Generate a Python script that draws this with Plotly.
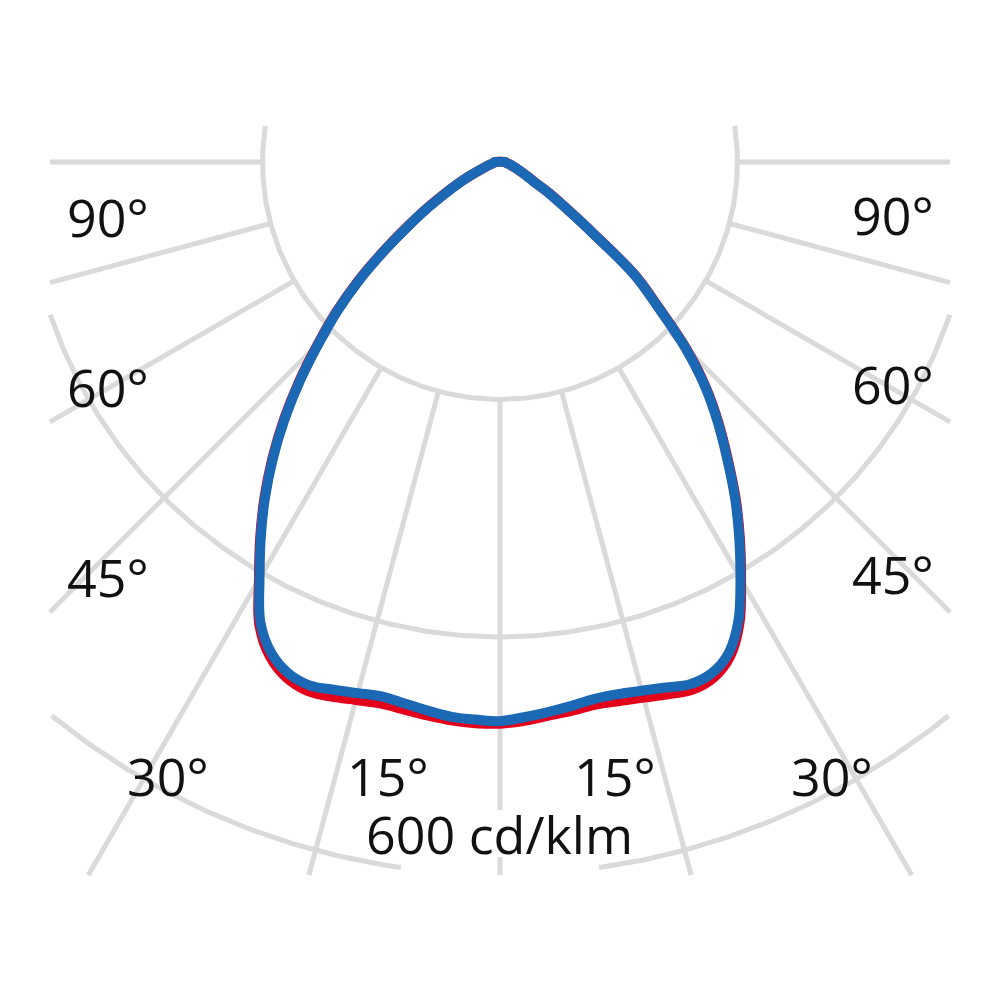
import numpy as np
import plotly.graph_objects as go

# ---------------- data (cd/klm) ----------------
angles = [0, 2.5, 5, 7.5, 10, 12.5, 15, 17.5, 20, 22.5, 25, 27.5, 30, 32.5, 35, 37.5,
          40, 42.5, 45, 47.5, 50, 52.5, 55, 57.5, 60, 62.5, 65, 70, 75, 80, 85, 90]

blue_left = [471, 470, 469, 466, 463, 461, 463, 466, 469, 466, 456, 437, 405, 375, 345, 314,
             282, 249, 216, 186, 155, 123, 95, 73, 54, 40, 29, 15, 9, 6, 5, 4]
blue_right = [471, 468, 465, 462, 459, 459, 461, 464, 468, 466, 456, 435, 405, 375, 345, 314,
              285, 255, 220, 180, 148, 99, 68, 49, 32, 25, 20, 13, 9, 6, 5, 4]
red_left = [473, 473, 472, 470, 468, 467, 469, 472, 474, 470, 459, 439, 406, 376, 346, 315,
            283, 250, 217, 187, 156, 124, 96, 74, 55, 41, 29, 15, 9, 6, 5, 4]
red_right = [473, 471, 468, 466, 464, 465, 467, 470, 473, 470, 459, 437, 406, 376, 346, 315,
             286, 256, 221, 181, 149, 100, 69, 50, 33, 26, 20, 13, 9, 6, 5, 4]

ring_values = [200, 400, 600]
spoke_angles = [-90, -75, -60, -45, -30, -15, 0, 15, 30, 45, 60, 75, 90]

angle_labels = ["90°", "60°", "45°", "30°", "15°", "15°", "30°", "45°", "60°", "90°"]
scale_label = "600 cd/klm"

# ---------------- geometry helpers ----------------
PX = 1.1875          # pixels per cd/klm
CX, CY = 500, 162    # pole position in screen pixels
OFF = 8              # page body margin
XL, XR, YT, YB = -379.0, 379.0, 31.2, -600.5   # grid clip rectangle (units)
GAP = 82.0           # gap of the outer ring behind the scale label


def polar_xy(vals, angs, side):
    a = np.radians(np.array(angs, dtype=float))
    v = np.array(vals, dtype=float)
    return side * v * np.sin(a), -v * np.cos(a)


def curve(left, right):
    xr, yr = polar_xy(right, angles, 1)
    xl, yl = polar_xy(left, angles, -1)
    x = np.concatenate([xr, xl[::-1], xr[1:3]])
    y = np.concatenate([yr, yl[::-1], yr[1:3]])
    return x, y


def inside(x, y):
    return XL <= x <= XR and YB <= y <= YT


gx, gy = [], []
for r in ring_values:
    t = np.radians(np.arange(0, 360.01, 0.25))
    prev = False
    for tt in t:
        x, y = r * np.sin(tt), -r * np.cos(tt)
        ok = inside(x, y) and not (r == 600 and abs(x) < GAP)
        if ok:
            gx.append(x); gy.append(y)
        elif prev:
            gx.append(None); gy.append(None)
        prev = ok
    gx.append(None); gy.append(None)

for a in spoke_angles:
    ar = np.radians(a)
    dx, dy = np.sin(ar), -np.cos(ar)
    ts = []
    if abs(dx) > 1e-9:
        ts.append(XR / abs(dx))
    if dy < -1e-9:
        ts.append(-YB / -dy)
    tmax = min(ts)
    gx += [200 * dx, tmax * dx, None]
    gy += [200 * dy, tmax * dy, None]

GRID = "#dadada"

fig = go.Figure()
fig.add_trace(go.Scatter(x=gx, y=gy, mode="lines", line=dict(color=GRID, width=5),
                         hoverinfo="skip", showlegend=False))

rx, ry = curve(red_left, red_right)
fig.add_trace(go.Scatter(x=rx, y=ry, mode="lines",
                         line=dict(color="#e2001a", width=10, shape="spline", smoothing=1.0),
                         showlegend=False))
bx, by = curve(blue_left, blue_right)
fig.add_trace(go.Scatter(x=bx, y=by, mode="lines",
                         line=dict(color="#1b68b5", width=10, shape="spline", smoothing=1.0),
                         showlegend=False))

fig.add_shape(type="rect", x0=-GAP, x1=GAP, y0=(CY - 857) / PX, y1=(CY - 810) / PX,
              fillcolor="white", line=dict(width=0), layer="above")

label_pos = [(108, 219), (108, 388), (108, 578), (168, 777), (388, 777),
             (615, 777), (832, 777), (893, 575), (893, 385), (893, 217)]
FONT = dict(family="Open Sans", size=52, color="#111111")


def paper(px, py):
    return (px - OFF) / 1000, 1 - (py - OFF) / 1000


for txt, (px, py) in zip(angle_labels, label_pos):
    ax, ay = paper(px, py - 2)
    fig.add_annotation(x=ax, y=ay, xref="paper", yref="paper",
                       text=txt, showarrow=False, font=FONT,
                       xanchor="center", yanchor="middle")
ax, ay = paper(499, 833)
fig.add_annotation(x=ax, y=ay, xref="paper", yref="paper",
                   text=scale_label, showarrow=False, font=FONT,
                   xanchor="center", yanchor="middle")

fig.update_xaxes(visible=False, range=[(OFF - CX) / PX, (1000 + OFF - CX) / PX], fixedrange=True)
fig.update_yaxes(visible=False, range=[(CY - 1000 - OFF) / PX, (CY - OFF) / PX], fixedrange=True)
fig.update_layout(width=1000, height=1000, autosize=False,
                  margin=dict(l=0, r=0, t=0, b=0),
                  paper_bgcolor="white", plot_bgcolor="white")

fig.write_html("out.html")
